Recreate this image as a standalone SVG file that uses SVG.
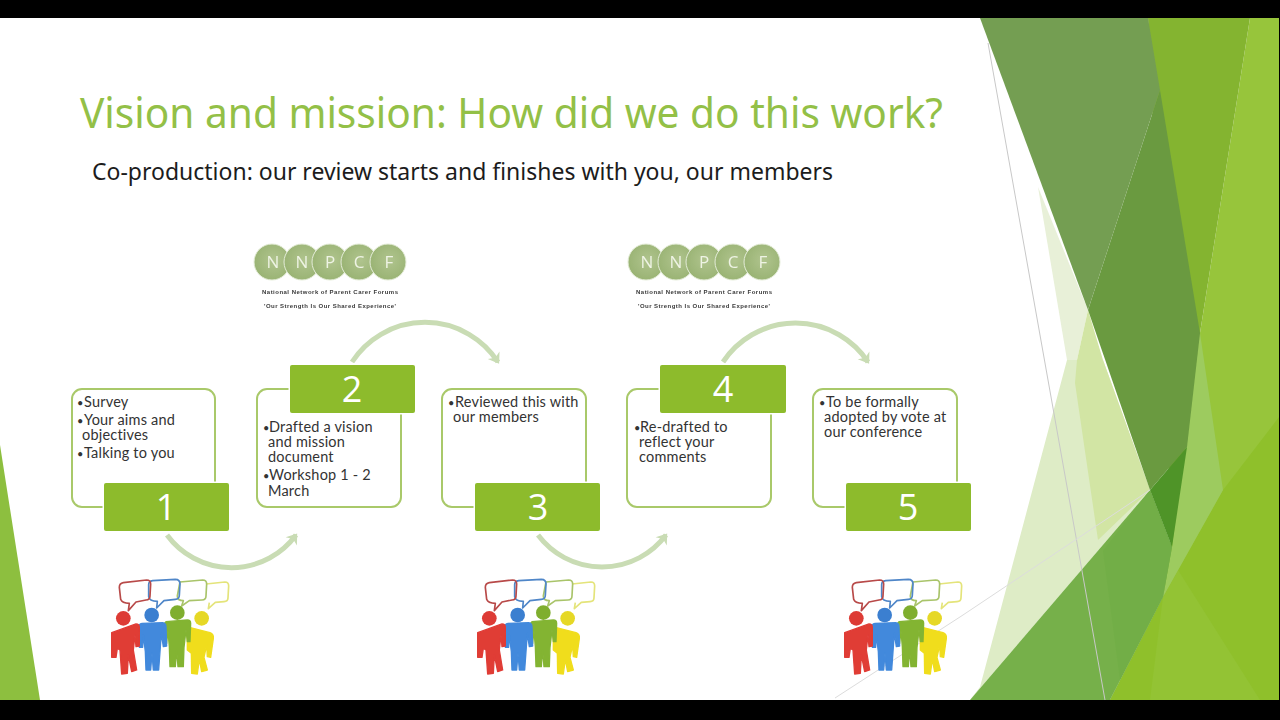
<svg xmlns="http://www.w3.org/2000/svg" width="1280" height="720" viewBox="0 0 1280 720">
<style>
.title{font:41px "Noto Sans","Open Sans","Liberation Sans",sans-serif;fill:#93c047}
.sub{font:23px "Noto Sans","Open Sans","Liberation Sans",sans-serif;fill:#1c1c1c}
.box{fill:#fff;stroke:#a9c96a;stroke-width:2}
.num{fill:#8dbb2c;stroke:#fff;stroke-width:3;paint-order:stroke}
.n{font:500 36px "Open Sans","Liberation Sans",sans-serif;fill:#fff;text-anchor:middle}
.t{font:14.5px "Lato","Liberation Sans",sans-serif;letter-spacing:.2px;fill:#333}
.b{font-size:11px}
.arc{fill:none;stroke:#c9dcb4;stroke-width:5;marker-end:url(#ah)}
.c{fill:url(#cg);stroke:#e4ecd8;stroke-width:1}
.l{font:17px "Open Sans","Liberation Sans",sans-serif;fill:#eef3e4;text-anchor:middle}
.s{font:bold 6px "Liberation Sans",sans-serif;fill:#3a3a3a;text-anchor:middle}
</style>
<defs>
<radialGradient id="cg" cx=".55" cy=".45" r=".6"><stop offset="0" stop-color="#b0c48e"/><stop offset="1" stop-color="#98b272"/></radialGradient>
<filter id="soft" x="-5%" y="-5%" width="110%" height="110%"><feGaussianBlur stdDeviation="0.5"/></filter>
<marker id="ah" markerUnits="userSpaceOnUse" markerWidth="16" markerHeight="16" refX="9" refY="8" orient="auto">
<path d="M1 1L11 8L1 15L4 8Z" fill="#c9dcb4"/>
</marker>
<g id="logo" filter="url(#soft)">
<circle class="c" cx="272" cy="262" r="18"/><circle class="c" cx="302" cy="262" r="18"/><circle class="c" cx="330" cy="262" r="18"/><circle class="c" cx="359" cy="262" r="18"/><circle class="c" cx="388" cy="262" r="18"/>
<text class="l" x="273" y="268">N</text><text class="l" x="302" y="268">N</text><text class="l" x="330" y="268">P</text><text class="l" x="359" y="268">C</text><text class="l" x="389" y="268">F</text>
<text class="s" x="330" y="294" textLength="136">National Network of Parent Carer Forums</text>
<text class="s" x="330" y="308" textLength="132">'Our Strength Is Our Shared Experience'</text>
</g>
<g id="people" filter="url(#soft)" transform="translate(100 570) scale(.3333)">
<g fill="none" stroke-width="5" stroke-linejoin="round">
<path stroke="#e4e47a" d="M318 42L375 36Q386 36 386 48L384 84Q384 94 372 95L346 97L325 116L328 98"/>
<path stroke="#a9c46a" d="M240 36L308 30Q320 30 320 42L318 78Q318 90 306 90L268 92L245 108L250 92Q232 92 232 78Z"/>
<path stroke="#4f86c8" d="M158 32L226 28Q240 28 240 42L238 76Q238 88 226 88L192 92L170 114L172 94Q148 94 146 80L146 44Q146 34 158 32Z"/>
<path stroke="#b84a48" d="M70 38L140 30Q152 30 152 42L150 78Q150 90 138 90L108 96L85 122L88 100Q66 100 62 88L58 52Q58 40 70 38Z"/>
</g>
<circle cx="305" cy="145" r="22" fill="#e6d825"/>
<path fill="#f0dd1c" stroke="#f0dd1c" stroke-width="4" stroke-linejoin="round" d="M268 172L330 188Q342 192 340 206L332 262L322 260L320 225L312 262L322 300L305 305L298 268L292 312L275 310L274 250L262 240L262 185Z"/>
<circle cx="232" cy="128" r="22" fill="#7fae2e"/>
<path fill="#83b433" stroke="#83b433" stroke-width="4" stroke-linejoin="round" d="M198 155L262 150Q272 150 272 160L270 215L262 215L258 180L252 232L250 290L234 290L230 240L226 290L210 290L208 230L204 182L200 220L192 218L190 164Z"/>
<circle cx="155" cy="135" r="22" fill="#3b7fd0"/>
<path fill="#4289dc" stroke="#4289dc" stroke-width="4" stroke-linejoin="round" d="M126 160L188 158Q198 160 198 170L200 228L190 230L184 190L180 245L176 300L160 300L156 250L152 300L138 300L136 245L130 195L128 232L118 232L116 170Q116 162 126 160Z"/>
<circle cx="70" cy="145" r="22" fill="#dd3b35"/>
<path fill="#e03c36" stroke="#e03c36" stroke-width="4" stroke-linejoin="round" d="M35 188L108 162Q118 162 118 172L118 228L108 230L105 195L100 240L110 300L95 305L85 255L82 310L65 312L60 240L52 235L48 262L35 262Z"/>
</g>
</defs>
<rect width="1280" height="720" fill="#fff"/>
<g id="background">
<path fill="#97c53b" d="M1250 18H1279V700H1110L1163 597L1200 333Z"/>
<path fill="#8fc02b" d="M1279 417L1223 490L1163 597L1110 700H1279Z"/>
<path fill="#93c334" d="M1163 597L1178 570L1260 700H1150Z"/>
<path fill="#84b430" d="M1148 18H1250L1200 333L1172 547Z"/>
<path fill="#9dcb5f" d="M1200 333L1223 490L1163 597L1172 547Z"/>
<path fill="#e8f0d8" d="M1038 187L1088 310L1077 360L1067 360Z"/>
<path fill="#deecc6" d="M1067 360L1103 360L1150 490L970 700L980 687Z"/>
<path fill="#d2e5a4" d="M1077 360L1088 310L1103 360L1150 490L1098 540L1075 383Z"/>
<path fill="#76b04a" d="M1150 490L1172 547L1163 597L1110 700H970Z"/>
<path fill="#72ae47" d="M1103 551L1150 490L1172 547L1163 597L1120 680Z"/>
<path fill="#6a9a40" d="M1088 310L1160 90L1200 333L1187 447L1150 490Z"/>
<path fill="#749e52" d="M980 18H1148L1160 90L1088 310Z"/>
<path fill="#4f9428" d="M1187 447L1150 490L1172 547Z"/>
<path fill="#8dbf3f" d="M0 445L40 700H0Z"/>
<path fill="none" stroke="#c8c8c8" d="M988 43L1105 700"/>
<path fill="none" stroke="#dcdcdc" d="M835 698L963 615L1150 490"/>
<path d="M0 0H1280V18H0ZM0 700H1280V720H0ZM1279 0H1280V720H1279Z"/>
</g>
<text class="title" x="80" y="128" textLength="863" lengthAdjust="spacingAndGlyphs">Vision and mission: How did we do this work?</text>
<text class="sub" x="92" y="180" textLength="741" lengthAdjust="spacingAndGlyphs">Co-production: our review starts and finishes with you, our members</text>
<g id="connectors">
<path class="arc" d="M167 535A80 80 0 0 0 296 535"/>
<path class="arc" d="M352 362A87 87 0 0 1 498 362"/>
<path class="arc" d="M538 535A80 80 0 0 0 666 535"/>
<path class="arc" d="M723 362A87 87 0 0 1 868 362"/>
</g>
<g id="step1"><rect class="box" x="72" y="389" width="143" height="118" rx="10"/><rect class="num" x="104" y="483" width="125" height="48" rx="2"/><text class="n" x="166" y="520">1</text>
<text class="t" x="77" y="407"><tspan class="b">•</tspan><tspan x="84">Survey</tspan></text><text class="t" x="77" y="425"><tspan class="b">•</tspan><tspan x="84">Your aims and</tspan></text><text class="t" x="82" y="440">objectives</text><text class="t" x="77" y="458"><tspan class="b">•</tspan><tspan x="84">Talking to you</tspan></text></g>
<g id="step2"><rect class="box" x="257" y="389" width="144" height="118" rx="10"/><rect class="num" x="290" y="365" width="125" height="48" rx="2"/><text class="n" x="352" y="402">2</text>
<text class="t" x="263" y="432"><tspan class="b">•</tspan><tspan x="269">Drafted a vision</tspan></text><text class="t" x="268" y="447">and mission</text><text class="t" x="268" y="462">document</text><text class="t" x="263" y="480"><tspan class="b">•</tspan><tspan x="269">Workshop 1 - 2</tspan></text><text class="t" x="268" y="496">March</text></g>
<g id="step3"><rect class="box" x="442" y="389" width="144" height="118" rx="10"/><rect class="num" x="475" y="483" width="125" height="48" rx="2"/><text class="n" x="538" y="520">3</text>
<text class="t" x="448" y="407"><tspan class="b">•</tspan><tspan x="455">Reviewed this with</tspan></text><text class="t" x="453" y="422">our members</text></g>
<g id="step4"><rect class="box" x="627" y="389" width="144" height="118" rx="10"/><rect class="num" x="660" y="365" width="126" height="48" rx="2"/><text class="n" x="723" y="402">4</text>
<text class="t" x="634" y="432"><tspan class="b">•</tspan><tspan x="640">Re-drafted to</tspan></text><text class="t" x="639" y="447">reflect your</text><text class="t" x="639" y="462">comments</text></g>
<g id="step5"><rect class="box" x="813" y="389" width="144" height="118" rx="10"/><rect class="num" x="846" y="483" width="125" height="48" rx="2"/><text class="n" x="908" y="520">5</text>
<text class="t" x="819" y="407"><tspan class="b">•</tspan><tspan x="826">To be formally</tspan></text><text class="t" x="824" y="422">adopted by vote at</text><text class="t" x="824" y="437">our conference</text></g>
<g id="logo1"><use href="#logo"/></g>
<g id="logo2"><use href="#logo" x="374"/></g>
<g id="people1"><use href="#people"/></g>
<g id="people2"><use href="#people" x="366"/></g>
<g id="people3"><use href="#people" x="733"/></g>
</svg>
